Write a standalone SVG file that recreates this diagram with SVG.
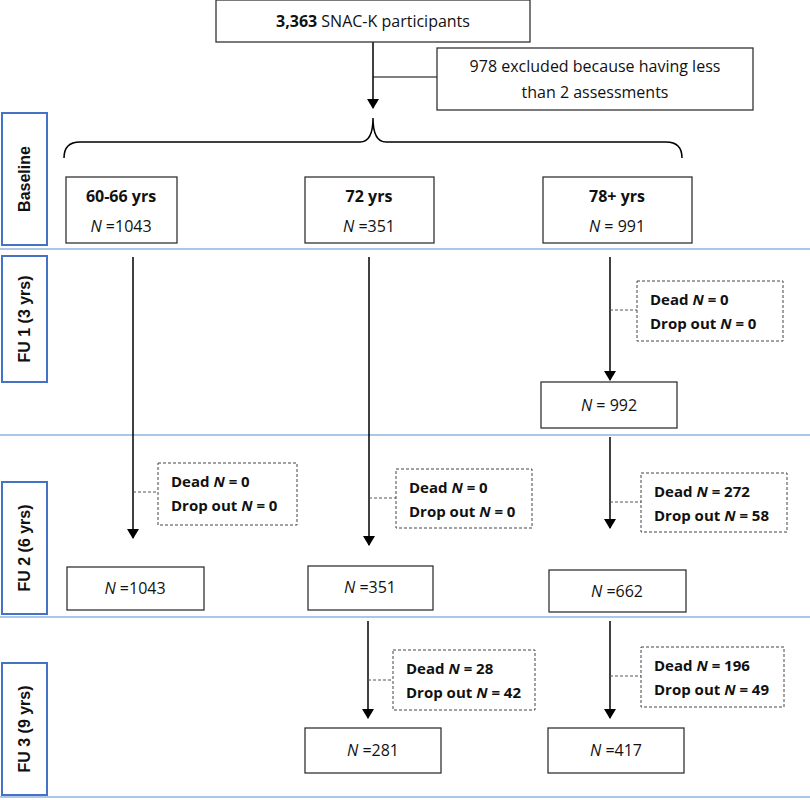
<svg xmlns="http://www.w3.org/2000/svg" width="810" height="800" viewBox="0 0 810 800">
<defs>
<marker id="ah" markerWidth="10" markerHeight="12" refX="9" refY="6" orient="auto" markerUnits="userSpaceOnUse"><path d="M0,0 L10,6 L0,12 Z" fill="#000"/></marker>
</defs>
<style>
.box{fill:#fff;stroke:#333;stroke-width:1.3}
.dbox{fill:#fff;stroke:#444;stroke-width:1;stroke-dasharray:3,2}
.lab{fill:#fff;stroke:#4472c4;stroke-width:2}
.sep{stroke:#8eb4e3;stroke-width:1.5}
.ln{stroke:#000;stroke-width:1.5;fill:none}
.dl{stroke:#555;stroke-width:1;stroke-dasharray:3,2}
text{font-family:"Open Sans","Liberation Sans",sans-serif;font-size:16px;fill:#111}
.c{text-anchor:middle}
.b{font-weight:bold}
.s{font-size:15px}
.rot{font-family:"Liberation Sans",Arial,sans-serif;font-weight:bold;font-size:16px;text-anchor:middle}
</style>
<g id="separators">
<line class="sep" x1="0" y1="249" x2="810" y2="249"/>
<line class="sep" x1="0" y1="435" x2="810" y2="435"/>
<line class="sep" x1="0" y1="617" x2="810" y2="617"/>
<line class="sep" x1="0" y1="797" x2="810" y2="797"/>
</g>
<g id="phase-labels">
<rect class="lab" x="2" y="113" width="45" height="132"/><text class="rot" transform="translate(30,179) rotate(-90)">Baseline</text>
<rect class="lab" x="2" y="256" width="45" height="126"/><text class="rot" transform="translate(30,319) rotate(-90)">FU 1 (3 yrs)</text>
<rect class="lab" x="2" y="482" width="45" height="132"/><text class="rot" transform="translate(30,548) rotate(-90)">FU 2 (6 yrs)</text>
<rect class="lab" x="2" y="663" width="45" height="132"/><text class="rot" transform="translate(30,729) rotate(-90)">FU 3 (9 yrs)</text>
</g>
<g id="connectors">
<line class="ln" x1="373" y1="42" x2="373" y2="108" marker-end="url(#ah)"/>
<line class="ln" x1="373" y1="77" x2="437" y2="77" style="stroke-width:1"/>
<path class="ln" d="M64,158 Q64,142 80,142 L360,142 Q373,142 373,118 Q373,142 386,142 L666,142 Q682,142 682,158"/>
<line class="ln" x1="133" y1="257" x2="133" y2="538" marker-end="url(#ah)"/>
<line class="ln" x1="369" y1="257" x2="369" y2="545" marker-end="url(#ah)"/>
<line class="ln" x1="610" y1="257" x2="610" y2="380" marker-end="url(#ah)"/>
<line class="ln" x1="610" y1="437" x2="610" y2="528" marker-end="url(#ah)"/>
<line class="ln" x1="368" y1="621" x2="368" y2="718" marker-end="url(#ah)"/>
<line class="ln" x1="610" y1="621" x2="610" y2="718" marker-end="url(#ah)"/>
<line class="dl" x1="610" y1="310" x2="637" y2="310"/>
<line class="dl" x1="133" y1="492" x2="158" y2="492"/>
<line class="dl" x1="369" y1="498" x2="396" y2="498"/>
<line class="dl" x1="610" y1="502" x2="641" y2="502"/>
<line class="dl" x1="368" y1="680" x2="393" y2="680"/>
<line class="dl" x1="610" y1="676" x2="641" y2="676"/>
</g>
<g id="top"><rect class="box" x="216" y="0" width="314" height="42"/><text class="c" x="373" y="27"><tspan class="b">3,363</tspan> SNAC-K participants</text></g>
<g id="excluded"><rect class="box" x="437" y="48" width="316" height="62"/><text class="c" x="595" y="72">978 excluded because having less</text><text class="c" x="595" y="98">than 2 assessments</text></g>
<g id="b1"><rect class="box" x="66" y="177" width="111" height="66"/><text class="c b" x="121" y="202">60-66 yrs</text><text class="c" x="121" y="232"><tspan font-style="italic">N</tspan> =1043</text></g>
<g id="b2"><rect class="box" x="305" y="177" width="129" height="66"/><text class="c b" x="369" y="202">72 yrs</text><text class="c" x="369" y="232"><tspan font-style="italic">N</tspan> =351</text></g>
<g id="b3"><rect class="box" x="543" y="177" width="149" height="66"/><text class="c b" x="617" y="202">78+ yrs</text><text class="c" x="617" y="232"><tspan font-style="italic">N</tspan> = 991</text></g>
<g id="d1"><rect class="dbox" x="637" y="281" width="146" height="60"/><text class="b s" x="650" y="305">Dead <tspan font-style="italic">N</tspan> = 0</text><text class="b s" x="650" y="329">Drop out <tspan font-style="italic">N</tspan> = 0</text></g>
<g id="f1"><rect class="box" x="541" y="382" width="136" height="46"/><text class="c" x="609" y="411"><tspan font-style="italic">N</tspan> = 992</text></g>
<g id="d2a"><rect class="dbox" x="158" y="463" width="139" height="62"/><text class="b s" x="171" y="487">Dead <tspan font-style="italic">N</tspan> = 0</text><text class="b s" x="171" y="511">Drop out <tspan font-style="italic">N</tspan> = 0</text></g>
<g id="d2b"><rect class="dbox" x="396" y="469" width="136" height="59"/><text class="b s" x="409" y="493">Dead <tspan font-style="italic">N</tspan> = 0</text><text class="b s" x="409" y="517">Drop out <tspan font-style="italic">N</tspan> = 0</text></g>
<g id="d2c"><rect class="dbox" x="641" y="473" width="146" height="59"/><text class="b s" x="654" y="497">Dead <tspan font-style="italic">N</tspan> = 272</text><text class="b s" x="654" y="521">Drop out <tspan font-style="italic">N</tspan> = 58</text></g>
<g id="f2a"><rect class="box" x="67" y="567" width="137" height="43"/><text class="c" x="135" y="594"><tspan font-style="italic">N</tspan> =1043</text></g>
<g id="f2b"><rect class="box" x="308" y="566" width="125" height="44"/><text class="c" x="370" y="593"><tspan font-style="italic">N</tspan> =351</text></g>
<g id="f2c"><rect class="box" x="549" y="570" width="137" height="42"/><text class="c" x="617" y="597"><tspan font-style="italic">N</tspan> =662</text></g>
<g id="d3b"><rect class="dbox" x="393" y="650" width="142" height="60"/><text class="b s" x="406" y="674">Dead <tspan font-style="italic">N</tspan> = 28</text><text class="b s" x="406" y="698">Drop out <tspan font-style="italic">N</tspan> = 42</text></g>
<g id="d3c"><rect class="dbox" x="641" y="647" width="143" height="60"/><text class="b s" x="654" y="671">Dead <tspan font-style="italic">N</tspan> = 196</text><text class="b s" x="654" y="695">Drop out <tspan font-style="italic">N</tspan> = 49</text></g>
<g id="f3b"><rect class="box" x="305" y="728" width="136" height="45"/><text class="c" x="373" y="756"><tspan font-style="italic">N</tspan> =281</text></g>
<g id="f3c"><rect class="box" x="548" y="728" width="136" height="45"/><text class="c" x="616" y="756"><tspan font-style="italic">N</tspan> =417</text></g>
</svg>
